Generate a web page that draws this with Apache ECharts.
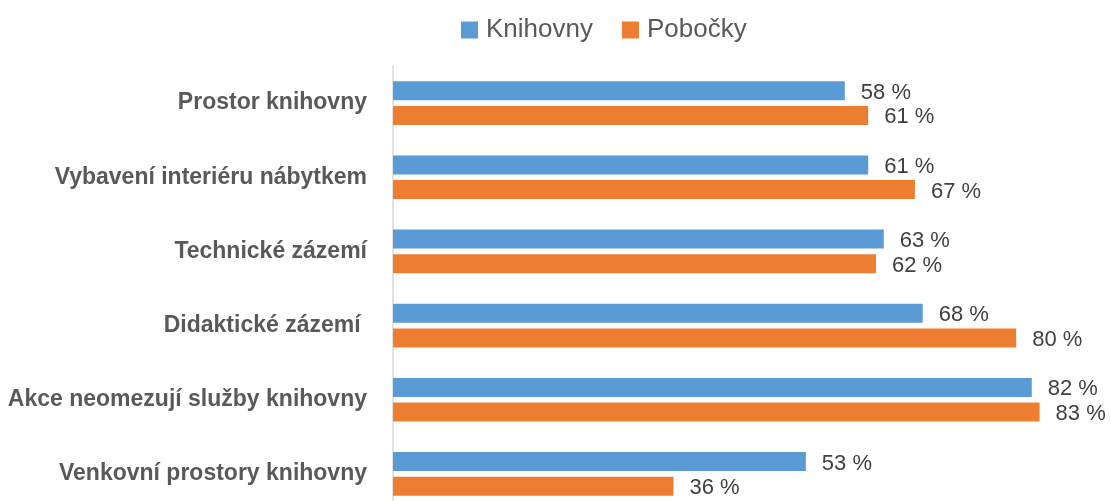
<!DOCTYPE html>
<html>
<head>
<meta charset="utf-8">
<script src="https://cdn.jsdelivr.net/npm/echarts@6/dist/echarts.min.js"></script>
<style>
  html, body { margin: 0; padding: 0; background: #fff; }
  #chart { width: 1111px; height: 501px; }
</style>
</head>
<body>
<div id="chart"></div>
<script>
// kategorie shora dolů
const categories = [
  'Prostor knihovny',
  'Vybavení interiéru nábytkem',
  'Technické zázemí',
  'Didaktické zázemí ',
  'Akce neomezují služby knihovny',
  'Venkovní prostory knihovny'
]
const knihovny = [58, 61, 63, 68, 82, 53]
const pobocky = [61, 67, 62, 80, 83, 36]
const seriesNames = ['Knihovny', 'Pobočky']

const chart = echarts.init(document.getElementById('chart'))

const valueLabel = {
  show: true,
  position: 'right',
  distance: 16,
  offset: [0, 2],
  color: '#404040',
  fontFamily: 'Liberation Sans',
  fontSize: 22,
  formatter: p => p.value + ' %'
}

chart.setOption({
  animation: false,
  legend: {
    data: seriesNames,
    left: 456,
    top: 12,
    itemWidth: 17,
    itemHeight: 17,
    itemGap: 29,
    icon: 'rect',
    textStyle: {
      color: '#595959',
      fontFamily: 'Liberation Sans',
      fontSize: 26,
      padding: [0, 0, 0, 3]
    }
  },
  grid: {
    left: 393,
    top: 66,
    width: 779,
    height: 445,
    outerBoundsMode: 'none'
  },
  xAxis: {
    type: 'value',
    min: 0,
    max: 100,
    show: false
  },
  yAxis: {
    type: 'category',
    inverse: true,
    data: categories,
    axisTick: { show: false },
    axisLine: { lineStyle: { color: '#d9d9d9', width: 1.5 } },
    axisLabel: {
      margin: 26,
      color: '#595959',
      fontFamily: 'Liberation Sans',
      fontWeight: 'bold',
      fontSize: 23,
      padding: [2, 0, 0, 0]
    }
  },
  series: [
    {
      name: seriesNames[0],
      type: 'bar',
      data: knihovny,
      barWidth: 19,
      barGap: '30%',
      itemStyle: { color: '#5B9BD5' },
      label: valueLabel
    },
    {
      name: seriesNames[1],
      type: 'bar',
      data: pobocky,
      barWidth: 19,
      barGap: '30%',
      itemStyle: { color: '#ED7D31' },
      label: valueLabel
    }
  ]
})

window.addEventListener('resize', () => chart.resize())
</script>
</body>
</html>
